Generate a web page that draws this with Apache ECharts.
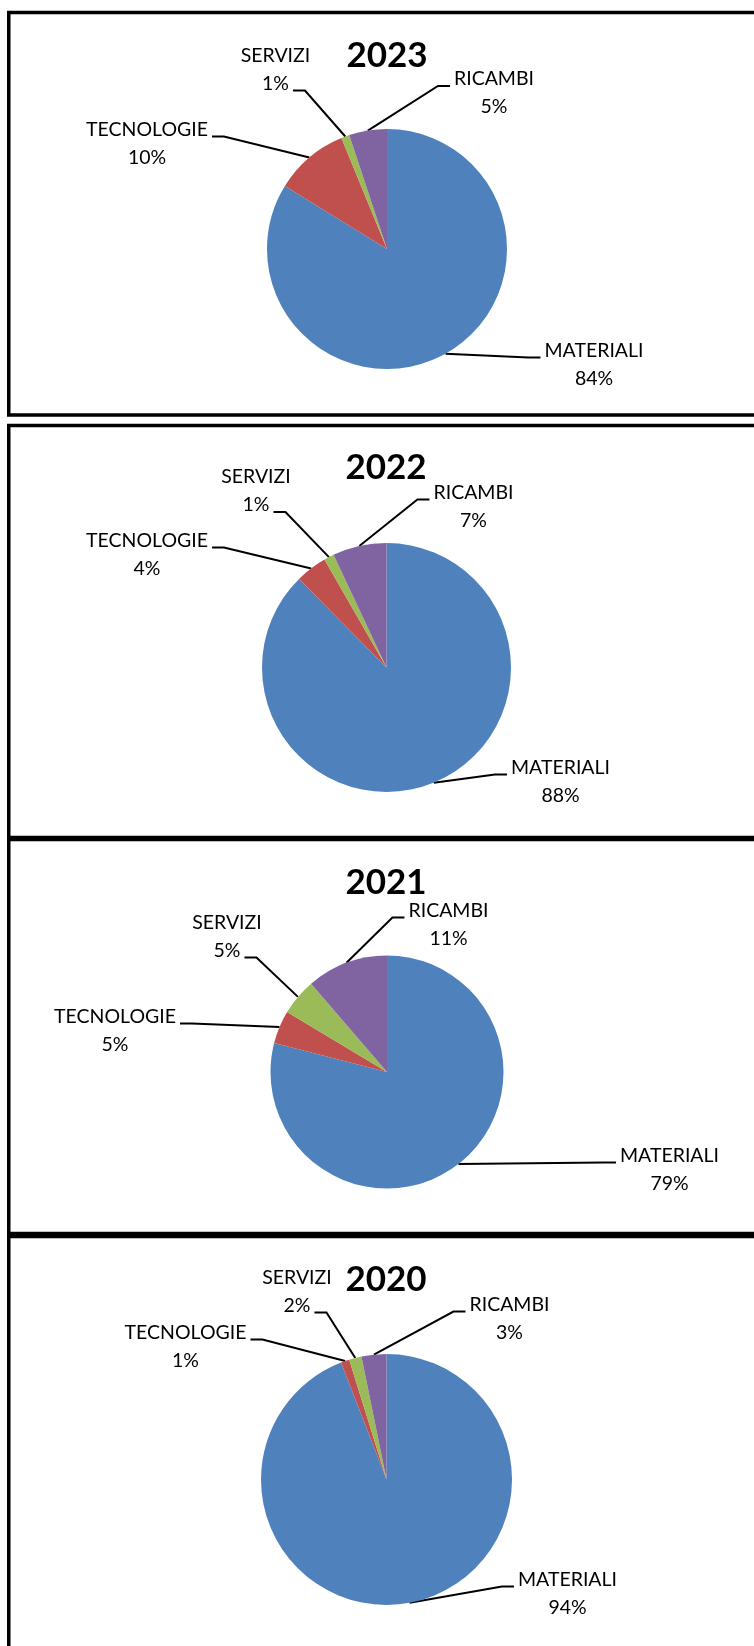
<!DOCTYPE html>
<html><head><meta charset="utf-8">
<script src="https://cdn.jsdelivr.net/npm/echarts@6/dist/echarts.min.js"></script>
<style>html,body{margin:0;padding:0;background:#fff;overflow:hidden}#c{width:754px;height:1646px}</style>
</head><body><div id="c"></div><script>
// ---- data ----
const categories = ['MATERIALI', 'TECNOLOGIE', 'SERVIZI', 'RICAMBI'];
const years = ['2023', '2022', '2021', '2020'];
const values2023 = [83.8, 10.0, 1.1, 5.1];
const values2022 = [87.6, 4.1, 1.3, 7.0];
const values2021 = [79.0, 4.6, 5.1, 11.3];
const values2020 = [94.1, 1.1, 1.6, 3.2];
const allValues = [values2023, values2022, values2021, values2020];

// ---- style / layout ----
const colors = ['#4F81BD', '#C0504D', '#9BBB59', '#8064A2'];
const FONT = 'Lato, "Open Sans", sans-serif';
const LINE_H = 28;
const panels = [[12.5, 415], [425.5, 837.5], [839.5, 1233.5], [1236.5, 1720]];
const pies = [
  { center: [387, 249], r: 120, title: [387, 56] },
  { center: [386.5, 667.5], r: 124.5, title: [386, 468] },
  { center: [387, 1072], r: 116.5, title: [386, 882.5] },
  { center: [386.5, 1479.5], r: 125.5, title: [386, 1280] }
];
// label anchor: [center x, top of first text line]
const labelPos = [
  [[594, 336.5], [147, 115.5], [275.5, 41.5], [494, 65]],
  [[560.5, 753.5], [147, 526.5], [256, 463], [473.5, 478.5]],
  [[669.5, 1141.5], [115, 1002.5], [227, 908.5], [448.5, 896.5]],
  [[567.5, 1565.5], [185.5, 1318.5], [297, 1263.5], [509.5, 1290.5]]
];
// the leader line of SERVIZI joins its percentage line; the other labels join their first line
const SPLIT = 2;

const chart = echarts.init(document.getElementById('c'), null, { renderer: 'canvas' });

const graphic = [];
panels.forEach(p => {
  graphic.push({ type: 'rect', silent: true, shape: { x: 8.75, y: p[0], width: 900, height: p[1] - p[0] },
    style: { fill: 'none', stroke: '#000', lineWidth: 3.5 } });
});
years.forEach((y, i) => {
  graphic.push({ type: 'text', silent: true, x: pies[i].title[0], y: pies[i].title[1],
    style: { text: y, fontFamily: FONT, fontWeight: 'bold', fontSize: 35, fill: '#000', align: 'center', verticalAlign: 'middle' } });
});

const labelFont = { fontFamily: FONT, fontSize: 19.5, lineHeight: LINE_H, color: '#000', align: 'center' };

const series = [];
years.forEach((y, i) => {
  // main pie
  series.push({
    type: 'pie',
    name: y,
    center: pies[i].center,
    radius: pies[i].r,
    startAngle: 90,
    clockwise: true,
    avoidLabelOverlap: false,
    animation: false,
    emphasis: { disabled: true },
    itemStyle: { borderWidth: 0 },
    label: Object.assign({
      show: true, position: 'outside', padding: [14, 4, 0, 4],
      formatter: p => (p.dataIndex === SPLIT ? '' : p.name + '\n') + Math.round(p.percent) + '%'
    }, labelFont),
    labelLine: { show: true, length: 10, length2: 12, minTurnAngle: 0, smooth: false,
      lineStyle: { color: '#000', width: 2 } },
    labelLayout: function (p) {
      const pos = labelPos[i][p.dataIndex];
      if (p.dataIndex === SPLIT) {
        return { x: pos[0], y: pos[1] + LINE_H, align: 'center', verticalAlign: 'top' };
      }
      return { x: pos[0], y: pos[1] - 14, align: 'center', verticalAlign: 'top' };
    },
    data: categories.map((c, j) => ({
      name: c, value: allValues[i][j], itemStyle: { color: colors[j] },
      label: j === SPLIT ? { padding: [0, 4, 14, 4] } : {}
    }))
  });
  // name line of the SERVIZI label (same data, invisible slices)
  series.push({
    type: 'pie',
    name: y + '-names',
    center: pies[i].center,
    radius: pies[i].r,
    startAngle: 90,
    clockwise: true,
    silent: true,
    z: 1,
    avoidLabelOverlap: false,
    animation: false,
    emphasis: { disabled: true },
    itemStyle: { color: 'rgba(0,0,0,0)', borderWidth: 0 },
    label: Object.assign({ show: true, position: 'outside', formatter: '{b}' }, labelFont),
    labelLine: { show: false },
    labelLayout: function (p) {
      const pos = labelPos[i][p.dataIndex];
      return { x: pos[0], y: pos[1], align: 'center', verticalAlign: 'top' };
    },
    data: categories.map((c, j) => ({ name: c, value: allValues[i][j], label: { show: j === SPLIT } }))
  });
});

chart.setOption({ animation: false, graphic: graphic, series: series });
</script></body></html>
